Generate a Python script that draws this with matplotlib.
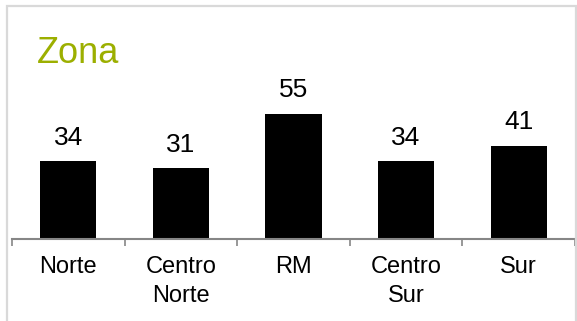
import matplotlib
matplotlib.use("Agg")
import matplotlib.pyplot as plt
from matplotlib.patches import Rectangle
import numpy as np

categories = ["Norte", "Centro\nNorte", "RM", "Centro\nSur", "Sur"]
values = [34, 31, 55, 34, 41]
title = "Zona"

plt.rcParams['font.family'] = ['Liberation Sans', 'DejaVu Sans']

W, H = 577, 321
fig = plt.figure(figsize=(W/100, H/100), dpi=100)

# outer border
fig.patches.append(Rectangle((7/W, -0.1), (575.5-7)/W, (H-6)/H + 0.1, transform=fig.transFigure,
                             fill=False, edgecolor='#d9d9d9', linewidth=1.6, zorder=0))

ax_left, ax_right = 12, 575
ax_bottom_px = 239
px_per_unit = 2.28
ax_top_px = 6
ax = fig.add_axes([ax_left/W, (H-ax_bottom_px)/H, (ax_right-ax_left)/W, (ax_bottom_px-ax_top_px)/H])
ax.patch.set_alpha(0)

x = np.arange(len(categories))
ax.bar(x, values, width=0.5, color='black')
ax.set_xlim(-0.5, len(categories)-0.5)
ax.set_ylim(0, (ax_bottom_px-ax_top_px)/px_per_unit)

for xi, v in zip(x, values):
    ax.annotate(str(v), (xi, v), xytext=(0, 8.3), textcoords='offset points',
                ha='center', va='bottom', fontsize=19, color='black')

for s in ['top', 'right', 'left']:
    ax.spines[s].set_visible(False)
ax.spines['bottom'].set_color('#868686')
ax.spines['bottom'].set_linewidth(1.5)
ax.set_yticks([])
ax.set_xticks(x)
ax.set_xticklabels(categories, fontsize=17, linespacing=1.38)
ax.tick_params(axis='x', which='major', length=0, pad=12.5)
ax.set_xticks(np.arange(-0.5, len(categories)), minor=True)
ax.tick_params(axis='x', which='minor', length=5, width=1.2, color='#868686', direction='out')

fig.text(37/W, 1 - 63/H, title, fontsize=26, color='#9caf00', ha='left', va='baseline')

fig.savefig("out.png", dpi=100)
